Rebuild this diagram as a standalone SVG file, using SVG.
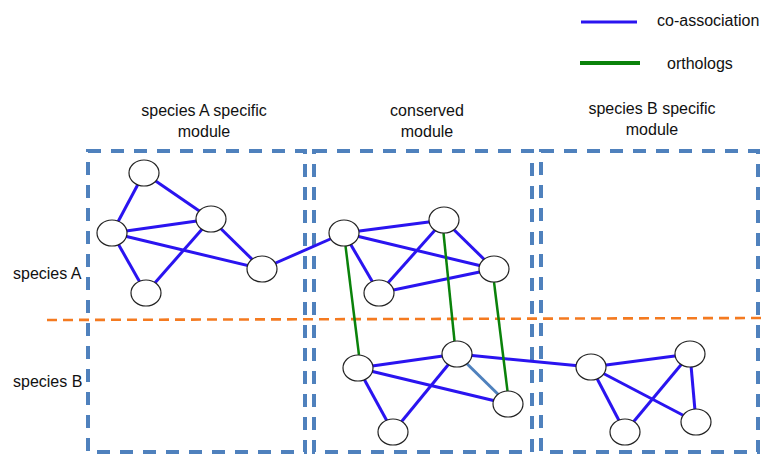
<svg xmlns="http://www.w3.org/2000/svg" width="764" height="455" viewBox="0 0 764 455">
<style>
text{font-family:"Liberation Sans",Arial,sans-serif;font-size:16px;fill:#111}
.box{fill:none;stroke:#4F81BD;stroke-width:4;stroke-dasharray:13 10}
.sep{fill:none;stroke:#F47A20;stroke-width:2.6;stroke-dasharray:10 6}
.co{stroke:#2A14F0;stroke-width:3;fill:none}
.co2{stroke:#4F81BD;stroke-width:3;fill:none}
.orth{stroke:#0A820A;stroke-width:2.5;fill:none}
.node ellipse{fill:#fff;stroke:#222;stroke-width:1.2}
</style>
<rect width="764" height="455" fill="#fff"/>
<g id="modules">
<rect class="box" x="88" y="151" width="217" height="301"/>
<rect class="box" x="314" y="151" width="218" height="301"/>
<rect class="box" x="541" y="151" width="217" height="301"/>
</g>
<line class="sep" x1="47" y1="320" x2="764" y2="318"/>
<g id="legend">
<line class="co" x1="581" y1="22" x2="637" y2="22"/>
<text x="657" y="26">co-association</text>
<line stroke="#0A820A" stroke-width="4" x1="580" y1="63" x2="640" y2="63"/>
<text x="667" y="69">orthologs</text>
</g>
<g id="labels">
<text x="204" y="116" text-anchor="middle">species A specific</text>
<text x="204" y="137" text-anchor="middle">module</text>
<text x="427" y="116" text-anchor="middle">conserved</text>
<text x="427" y="137" text-anchor="middle">module</text>
<text x="652" y="114" text-anchor="middle">species B specific</text>
<text x="652" y="135" text-anchor="middle">module</text>
<text x="13" y="279">species A</text>
<text x="13" y="387">species B</text>
</g>
<g id="connectors">
<line class="co" x1="144" y1="173" x2="112" y2="233"/>
<line class="co" x1="144" y1="173" x2="211" y2="219"/>
<line class="co" x1="112" y1="233" x2="211" y2="219"/>
<line class="co" x1="112" y1="233" x2="146" y2="293"/>
<line class="co" x1="112" y1="233" x2="262" y2="269"/>
<line class="co" x1="211" y1="219" x2="146" y2="293"/>
<line class="co" x1="211" y1="219" x2="262" y2="269"/>
<line class="co" x1="262" y1="269" x2="344" y2="233"/>
<line class="co" x1="344" y1="233" x2="444" y2="220"/>
<line class="co" x1="344" y1="233" x2="494" y2="269"/>
<line class="co" x1="344" y1="233" x2="379" y2="293"/>
<line class="co" x1="444" y1="220" x2="379" y2="293"/>
<line class="co" x1="444" y1="220" x2="494" y2="269"/>
<line class="co" x1="379" y1="293" x2="494" y2="269"/>
<line class="co" x1="358" y1="368" x2="457" y2="354"/>
<line class="co" x1="358" y1="368" x2="508" y2="404"/>
<line class="co" x1="358" y1="368" x2="393" y2="432"/>
<line class="co" x1="457" y1="354" x2="393" y2="432"/>
<line class="co2" x1="457" y1="354" x2="508" y2="404"/>
<line class="co" x1="457" y1="354" x2="591" y2="367"/>
<line class="co" x1="591" y1="367" x2="690" y2="354"/>
<line class="co" x1="591" y1="367" x2="696" y2="422"/>
<line class="co" x1="591" y1="367" x2="625" y2="432"/>
<line class="co" x1="690" y1="354" x2="625" y2="432"/>
<line class="co" x1="690" y1="354" x2="696" y2="422"/>
<line class="orth" x1="345.5" y1="246" x2="359" y2="355"/>
<line class="orth" x1="443.5" y1="233" x2="454.5" y2="341"/>
<line class="orth" x1="494" y1="282" x2="507.5" y2="391"/>
</g>
<g id="a1" class="node"><ellipse cx="144" cy="173" rx="15" ry="13"/></g>
<g id="a2" class="node"><ellipse cx="112" cy="233" rx="15" ry="13"/></g>
<g id="a3" class="node"><ellipse cx="211" cy="219" rx="15" ry="13"/></g>
<g id="a4" class="node"><ellipse cx="146" cy="293" rx="15" ry="13"/></g>
<g id="a5" class="node"><ellipse cx="262" cy="269" rx="15" ry="13"/></g>
<g id="c1" class="node"><ellipse cx="344" cy="233" rx="15" ry="13"/></g>
<g id="c2" class="node"><ellipse cx="444" cy="220" rx="15" ry="13"/></g>
<g id="c3" class="node"><ellipse cx="494" cy="269" rx="15" ry="13"/></g>
<g id="c4" class="node"><ellipse cx="379" cy="293" rx="15" ry="13"/></g>
<g id="d1" class="node"><ellipse cx="358" cy="368" rx="15" ry="13"/></g>
<g id="d2" class="node"><ellipse cx="457" cy="354" rx="15" ry="13"/></g>
<g id="d3" class="node"><ellipse cx="508" cy="404" rx="15" ry="13"/></g>
<g id="d4" class="node"><ellipse cx="393" cy="432" rx="15" ry="13"/></g>
<g id="b1" class="node"><ellipse cx="591" cy="367" rx="15" ry="13"/></g>
<g id="b2" class="node"><ellipse cx="690" cy="354" rx="15" ry="13"/></g>
<g id="b3" class="node"><ellipse cx="696" cy="422" rx="15" ry="13"/></g>
<g id="b4" class="node"><ellipse cx="625" cy="432" rx="15" ry="13"/></g>
</svg>
